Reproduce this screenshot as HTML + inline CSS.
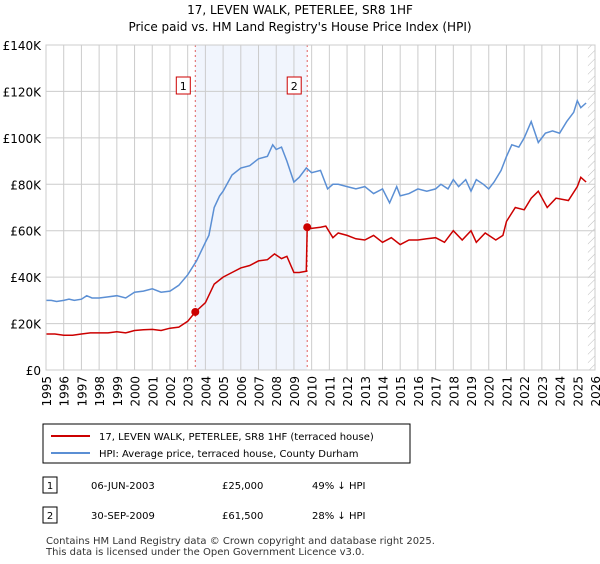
<!DOCTYPE html>
<html><head><meta charset="utf-8"><style>
body{margin:0;background:#fff;font-family:"DejaVu Sans","Liberation Sans",sans-serif;}
svg text{font-family:"DejaVu Sans","Liberation Sans",sans-serif;}
</style></head><body>
<svg id="c" width="600" height="560" xmlns="http://www.w3.org/2000/svg">
<defs><pattern id="hatch" width="6" height="6" patternUnits="userSpaceOnUse" patternTransform="rotate(45)"><line x1="0" y1="0" x2="0" y2="6" stroke="#bbb" stroke-width="1"/></pattern></defs>
<text x="300" y="14" text-anchor="middle" font-size="12">17, LEVEN WALK, PETERLEE, SR8 1HF</text>
<text x="300" y="31" text-anchor="middle" font-size="12">Price paid vs. HM Land Registry's House Price Index (HPI)</text>
<g id="plot"></g>
<rect x="43" y="424" width="367" height="39" fill="#fff" stroke="#000" stroke-width="1"/>
<line x1="51" y1="436" x2="90" y2="436" stroke="#cc0000" stroke-width="2"/>
<text x="99" y="440" font-size="10">17, LEVEN WALK, PETERLEE, SR8 1HF (terraced house)</text>
<line x1="51" y1="453" x2="90" y2="453" stroke="#5b8fd4" stroke-width="2"/>
<text x="99" y="457" font-size="10">HPI: Average price, terraced house, County Durham</text>
<rect x="43" y="477" width="14" height="16" fill="#fff" stroke="#000"/>
<text x="50" y="489" text-anchor="middle" font-size="10">1</text>
<text x="91" y="489" font-size="10">06-JUN-2003</text>
<text x="222" y="489" font-size="10">£25,000</text>
<text x="312" y="489" font-size="10">49% ↓ HPI</text>
<rect x="43" y="507" width="14" height="16" fill="#fff" stroke="#000"/>
<text x="50" y="519" text-anchor="middle" font-size="10">2</text>
<text x="91" y="519" font-size="10">30-SEP-2009</text>
<text x="222" y="519" font-size="10">£61,500</text>
<text x="312" y="519" font-size="10">28% ↓ HPI</text>
<text x="46" y="544" font-size="10" fill="#333">Contains HM Land Registry data © Crown copyright and database right 2025.</text>
<text x="46" y="555" font-size="10" fill="#333">This data is licensed under the Open Government Licence v3.0.</text>
</svg>
<script>
const hpiYears=[1995,1995.3,1995.6,1996,1996.3,1996.6,1997,1997.3,1997.6,1998,1998.5,1999,1999.5,2000,2000.5,2001,2001.5,2002,2002.5,2003,2003.5,2004,2004.2,2004.5,2004.8,2005,2005.5,2006,2006.5,2007,2007.5,2007.8,2008,2008.3,2008.6,2009,2009.3,2009.7,2010,2010.5,2010.9,2011.2,2011.5,2012,2012.5,2013,2013.5,2014,2014.4,2014.8,2015,2015.5,2016,2016.5,2017,2017.3,2017.7,2018,2018.3,2018.7,2019,2019.3,2019.7,2020,2020.3,2020.7,2021,2021.3,2021.7,2022,2022.4,2022.8,2023.2,2023.6,2024,2024.4,2024.8,2025,2025.2,2025.5];
const hpiValues=[30,30,29.5,30,30.5,30,30.5,32,31,31,31.5,32,31,33.5,34,35,33.5,34,36.5,41,47,55,58,70,75,77,84,87,88,91,92,97,95,96,90,81,83,87,85,86,78,80,80,79,78,79,76,78,72,79,75,76,78,77,78,80,78,82,79,82,77,82,80,78,81,86,92,97,96,100,107,98,102,103,102,107,111,116,113,115];
const priceYears=[1995,1995.5,1996,1996.5,1997,1997.5,1998,1998.5,1999,1999.5,2000,2000.5,2001,2001.5,2002,2002.5,2003,2003.43,2004,2004.5,2005,2005.5,2006,2006.5,2007,2007.5,2007.9,2008.3,2008.6,2009,2009.3,2009.7,2009.75,2010,2010.5,2010.8,2011.2,2011.5,2012,2012.5,2013,2013.5,2014,2014.5,2015,2015.5,2016,2016.5,2017,2017.5,2018,2018.5,2019,2019.3,2019.8,2020.4,2020.8,2021,2021.5,2022,2022.4,2022.8,2023.3,2023.8,2024.5,2025,2025.2,2025.5];
const priceValues=[15.5,15.5,15,15,15.5,16,16,16,16.5,16,17,17.3,17.5,17,18,18.5,21,25,29,37,40,42,44,45,47,47.5,50,48,49,42,42,42.5,61.5,61,61.5,62,57,59,58,56.5,56,58,55,57,54,56,56,56.5,57,55,60,56,60,55,59,56,58,64,70,69,74,77,70,74,73,79,83,81];
const sales=[[2003.43,25],[2009.75,61.5]];
const yTicks=[0,20,40,60,80,100,120,140];
const xTicks=[1995,1996,1997,1998,1999,2000,2001,2002,2003,2004,2005,2006,2007,2008,2009,2010,2011,2012,2013,2014,2015,2016,2017,2018,2019,2020,2021,2022,2023,2024,2025,2026];
const X0=46,X1=595,Y0=370,Y1=45;
const sx=y=>X0+(y-1995)/(2026-1995)*(X1-X0);
const sy=v=>Y0-v/140*(Y0-Y1);
const NS="http://www.w3.org/2000/svg";
const g=document.getElementById('plot');
function mk(t,a,p){const e=document.createElementNS(NS,t);for(const k in a)e.setAttribute(k,a[k]);(p||g).appendChild(e);return e;}
let e;
e=mk('rect',{x:sx(2003.43),y:Y1,width:sx(2009.75)-sx(2003.43),height:Y0-Y1,fill:'#eef3fc',opacity:0.8});


e=mk('rect',{x:sx(2025.6),y:Y1,width:X1-sx(2025.6),height:Y0-Y1,fill:'url(#hatch)'});


for(const t of yTicks){
 e=mk('line',{x1:X0,x2:X1,y1:sy(t),y2:sy(t),stroke:'#ccc','stroke-width':1});
 
 
 e=mk('text',{x:X0-5,y:sy(t)+5,'text-anchor':'end','font-size':12});
 e.textContent=t===0?'£0':'£'+t+'K';
 
 
}
for(const t of xTicks){
 e=mk('line',{x1:sx(t),x2:sx(t),y1:Y1,y2:Y0,stroke:'#ccc','stroke-width':1});
 
 
 e=mk('text',{x:0,y:0,'text-anchor':'end','font-size':12,transform:`translate(${sx(t)+5},${Y0+6}) rotate(-90)`});
 e.textContent=t;
 
 
}
sales.forEach((s,i)=>{
 e=mk('line',{x1:sx(s[0]),x2:sx(s[0]),y1:Y1,y2:Y0,stroke:'#e06060','stroke-width':1,'stroke-dasharray':'2,3'});
 
 
 const bx=sx(s[0])-19+ (i?-1:0);
 e=mk('rect',{x:bx,y:77,width:14,height:17,fill:'#fff',stroke:'#cc0000','stroke-width':1});
 
 
 e=mk('text',{x:bx+7,y:90,'text-anchor':'middle','font-size':11});
 e.textContent=String(i+1);
 
 
});
e=mk('path',{d:hpiYears.map((y,i)=>(i?'L':'M')+sx(y).toFixed(1)+','+sy(hpiValues[i]).toFixed(1)).join(''),fill:'none',stroke:'#5b8fd4','stroke-width':1.5});


e=mk('path',{d:priceYears.map((y,i)=>(i?'L':'M')+sx(y).toFixed(1)+','+sy(priceValues[i]).toFixed(1)).join(''),fill:'none',stroke:'#cc0000','stroke-width':1.5});


for(const s of sales){
 e=mk('circle',{cx:sx(s[0]),cy:sy(s[1]),r:4,fill:'#cc0000'});
 
 
}
e=mk('rect',{x:X0,y:Y1,width:X1-X0,height:Y0-Y1,fill:'none',stroke:'#ccc'});


</script>
</body></html>
